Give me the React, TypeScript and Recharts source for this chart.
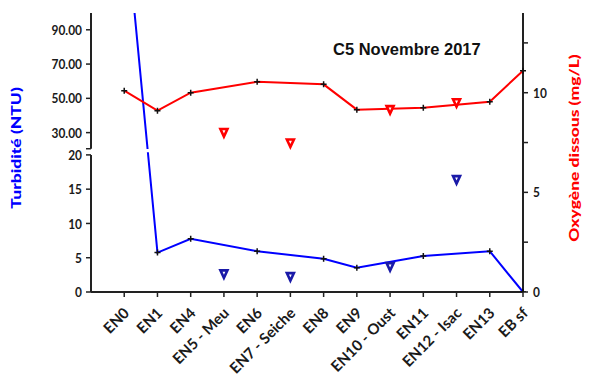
import React from 'react';
import { ComposedChart, Line, XAxis, YAxis, ReferenceArea, ReferenceLine } from 'recharts';

// ---- data ----
const CATEGORIES = ['EN0', 'EN1', 'EN4', 'EN5 - Meu', 'EN6', 'EN7 - Seiche', 'EN8', 'EN9', 'EN10 - Oust', 'EN11', 'EN12 - Isac', 'EN13', 'EB sf'];
// turbidity (NTU) on the river (line) and at tributaries (triangles) — plotted on the lower linear scale
const TURBIDITY_MAIN = [56.5, 5.75, 7.75, null, 5.95, null, 4.85, 3.55, null, 5.25, null, 5.95, 0];
const TURBIDITY_TRIB = [null, null, null, 2.65, null, 2.25, null, null, 3.7, null, 16.4, null, null];
// dissolved oxygen (mg/L)
const OXYGEN_MAIN = [10.1, 9.1, 10.0, null, 10.55, null, 10.42, 9.15, null, 9.25, null, 9.55, 11.1];
const OXYGEN_TRIB = [null, null, null, 8.0, null, 7.48, null, null, 9.15, null, 9.5, null, null];

// left axis: broken scale (0-20 linear, then 30-90 compressed)
const LOWER_TICKS = [0, 5, 10, 15, 20];
const UPPER_TICK_LABELS = [30, 50, 70, 90];
const UPPER_BASE = 23.25;
const UPPER_STEP = 0.25;
const BREAK_LOW = 20;
const BREAK_HIGH = 20.9;
const GAP_LOW = 20.4;
const GAP_HIGH = 20.85;
const LEFT_MAX = 40.7;
const upperPos = (v: number) => UPPER_BASE + (v - 30) * UPPER_STEP;

const RIGHT_TICKS = [0, 2.5, 5, 7.5, 10, 12.5];
const RIGHT_MAX = 14;

const TITLE = 'C5 Novembre 2017';
const LEFT_TITLE = 'Turbidité (NTU)';
const RIGHT_TITLE = 'Oxygène dissous (mg/L)';

const data = CATEGORIES.map((name, i) => ({
  idx: i,
  name,
  turb: TURBIDITY_MAIN[i],
  turbT: TURBIDITY_TRIB[i],
  oxy: OXYGEN_MAIN[i],
  oxyT: OXYGEN_TRIB[i],
}));

const leftTicks = [...LOWER_TICKS, BREAK_HIGH, ...UPPER_TICK_LABELS.map(upperPos)];
const leftLabel = (v: number) => {
  if (LOWER_TICKS.includes(v)) return String(v);
  const k = UPPER_TICK_LABELS.findIndex((u) => Math.abs(upperPos(u) - v) < 1e-6);
  return k >= 0 ? UPPER_TICK_LABELS[k].toFixed(2) : '';
};

const BLUE = '#0000ff';
const RED = '#ff0000';
const AXIS = '#222222';
const FONT = 'Lato, "Open Sans", sans-serif';

const LeftTick = (props: any) => {
  const { x, y, payload } = props;
  const t = leftLabel(payload.value);
  if (!t) return null;
  return (
    <text transform={`translate(${x - 1},${y}) scale(0.85,1)`} textAnchor="end" dy="0.36em"
      fontFamily={FONT} fontWeight={700} fontSize={14} fill="#1a1a1a">{t}</text>
  );
};

const RightTick = (props: any) => {
  const { x, y, payload } = props;
  const v = payload.value;
  if (!Number.isInteger(v)) return null;
  return (
    <text transform={`translate(${x + 1},${y}) scale(0.85,1)`} textAnchor="start" dy="0.36em"
      fontFamily={FONT} fontWeight={700} fontSize={14} fill="#1a1a1a">{String(v)}</text>
  );
};

const XTick = (props: any) => {
  const { x, y, payload } = props;
  const t = CATEGORIES[payload.value] ?? '';
  return (
    <text transform={`translate(${x + 6},${y + 15}) rotate(-45)`} textAnchor="end"
      fontFamily={FONT} fontWeight={700} fontSize={15} fill="#1a1a1a">{t}</text>
  );
};

const PlusDot = (props: any) => {
  const { cx, cy, value } = props;
  if (value == null || cx == null || cy == null || isNaN(cy)) return null;
  return (
    <path d={`M${cx - 3},${cy}H${cx + 3}M${cx},${cy - 3}V${cy + 3}`} stroke="#111" strokeWidth={1.5} fill="none" />
  );
};

const makeTri = (color: string) => (props: any) => {
  const { cx, cy, value } = props;
  if (value == null || cx == null || cy == null || isNaN(cy)) return null;
  return (
    <path d={`M${cx - 3.5},${cy - 3.5}L${cx + 3.5},${cy - 3.5}L${cx},${cy + 4}Z`} stroke={color} strokeWidth={2.6} fill="#ffffff" strokeLinejoin="miter" />
  );
};
const BlueTri = makeTri('#1a1aa8');
const RedTri = makeTri(RED);

export default function App() {
  return (
    <div style={{ position: 'absolute', left: 0, top: 0, width: 589, height: 383, background: '#fff' }}>
      <ComposedChart width={589} height={383} data={data} margin={{ top: 13, right: 0, bottom: 0, left: 0 }}>
        <XAxis dataKey="idx" type="number" domain={[-1, 12]} ticks={CATEGORIES.map((_, i) => i)} interval={0}
          height={91} tick={<XTick />} tickSize={5} tickMargin={2}
          axisLine={{ stroke: AXIS, strokeWidth: 2 }} tickLine={{ stroke: AXIS, strokeWidth: 1.5 }} />
        <YAxis yAxisId="left" orientation="left" width={91} type="number" domain={[0, LEFT_MAX]} allowDataOverflow
          ticks={leftTicks} interval={0} tick={<LeftTick />} tickSize={5} tickMargin={3}
          axisLine={false} tickLine={{ stroke: AXIS, strokeWidth: 1.5 }} />
        <YAxis yAxisId="right" orientation="right" width={66} type="number" domain={[0, RIGHT_MAX]} allowDataOverflow
          ticks={RIGHT_TICKS} interval={0} tick={<RightTick />} tickSize={5} tickMargin={4}
          axisLine={{ stroke: AXIS, strokeWidth: 2 }} tickLine={{ stroke: AXIS, strokeWidth: 1.5 }} />

        <ReferenceLine yAxisId="left" segment={[{ x: -1, y: 0 }, { x: -1, y: BREAK_LOW }]} stroke={AXIS} strokeWidth={2} ifOverflow="visible" />
        <ReferenceLine yAxisId="left" segment={[{ x: -1, y: BREAK_HIGH }, { x: -1, y: LEFT_MAX }]} stroke={AXIS} strokeWidth={2} ifOverflow="visible" />

        <Line yAxisId="left" dataKey="turb" stroke={BLUE} strokeWidth={2} connectNulls dot={<PlusDot />} activeDot={false} isAnimationActive={false} />
        <Line yAxisId="right" dataKey="oxy" stroke={RED} strokeWidth={2} connectNulls dot={<PlusDot />} activeDot={false} isAnimationActive={false} />
        <Line yAxisId="left" dataKey="turbT" stroke="none" strokeWidth={0} dot={<BlueTri />} activeDot={false} isAnimationActive={false} />
        <Line yAxisId="right" dataKey="oxyT" stroke="none" strokeWidth={0} dot={<RedTri />} activeDot={false} isAnimationActive={false} />

        <ReferenceArea yAxisId="left" x1={-0.5} x2={1} y1={GAP_LOW} y2={GAP_HIGH} fill="#ffffff" fillOpacity={1} stroke="none" ifOverflow="visible" zIndex={1000} />
      </ComposedChart>

      <div style={{ position: 'absolute', left: 333, top: 41, fontFamily: '"Liberation Sans", Arial, sans-serif', fontWeight: 700, fontSize: 16.5, lineHeight: 1, whiteSpace: 'nowrap', color: '#111' }}>{TITLE}</div>
      <div style={{ position: 'absolute', left: 16, top: 148, transform: 'translate(-50%,-50%) scaleX(0.78) rotate(-90deg)', fontFamily: FONT, fontWeight: 900, fontSize: 17.5, lineHeight: 1, whiteSpace: 'nowrap', color: BLUE }}>{LEFT_TITLE}</div>
      <div style={{ position: 'absolute', left: 574, top: 148, transform: 'translate(-50%,-50%) scaleX(0.78) rotate(-90deg)', fontFamily: FONT, fontWeight: 900, fontSize: 17.5, lineHeight: 1, whiteSpace: 'nowrap', color: RED }}>{RIGHT_TITLE}</div>
    </div>
  );
}
